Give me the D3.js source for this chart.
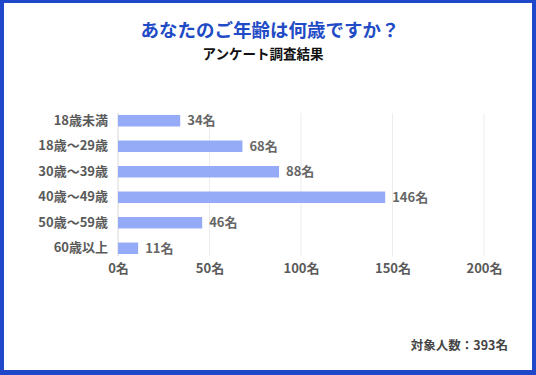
<!DOCTYPE html>
<html>
<head>
<meta charset="utf-8">
<script src="https://cdn.jsdelivr.net/npm/d3@7"></script>
<style>
  body { margin: 0; background: #fff; }
  svg { display: block; font-family: "Noto Sans CJK JP", "Noto Sans", sans-serif; }
</style>
</head>
<body>
<div id="chart"></div>
<script>
var categories = ["18歳未満", "18歳〜29歳", "30歳〜39歳", "40歳〜49歳", "50歳〜59歳", "60歳以上"];
var counts = [34, 68, 88, 146, 46, 11];
var xTicks = [0, 50, 100, 150, 200];
var title = "あなたのご年齢は何歳ですか？";
var subtitle = "アンケート調査結果";
var note = "対象人数：393名";

var width = 536, height = 375;

var svg = d3.select("#chart").append("svg")
    .attr("width", width)
    .attr("height", height);

// blue frame
svg.append("rect")
    .attr("x", 0).attr("y", 0)
    .attr("width", width).attr("height", height)
    .attr("fill", "#1f47c9");
svg.append("rect")
    .attr("x", 4).attr("y", 3)
    .attr("width", width - 8).attr("height", height - 8)
    .attr("fill", "#fff");

svg.append("text")
    .attr("x", width / 2 + 2).attr("y", 37)
    .attr("text-anchor", "middle")
    .attr("fill", "#1f4bc6")
    .attr("font-size", 18.5)
    .attr("font-weight", "bold")
    .text(title);

svg.append("text")
    .attr("x", width / 2 - 5).attr("y", 59)
    .attr("text-anchor", "middle")
    .attr("fill", "#111")
    .attr("font-size", 13.5)
    .attr("font-weight", "bold")
    .text(subtitle);

var x = d3.scaleLinear().domain([0, 200]).range([118, 484]);
var y = d3.scaleBand().domain(categories)
    .range([108, 261])
    .paddingInner(0.55)
    .paddingOuter(0.275);

// grid
svg.selectAll(".grid")
    .data(xTicks)
    .enter()
    .append("line")
    .attr("class", "grid")
    .attr("x1", function(d) { return x(d); })
    .attr("x2", function(d) { return x(d); })
    .attr("y1", 113)
    .attr("y2", 256)
    .attr("stroke", function(d) { return d === 0 ? "#d8d8d8" : "#ececec"; })
    .attr("stroke-width", 1);

var xAxis = d3.axisBottom(x).tickValues(xTicks).tickSize(0).tickFormat(function(d) { return d + "名"; });
var gx = svg.append("g")
    .attr("transform", "translate(0,261)")
    .call(xAxis);
gx.select(".domain").remove();
gx.selectAll("text")
    .attr("fill", "#5a5a5a")
    .attr("font-size", 13)
    .attr("font-weight", "bold")
    .attr("font-family", "\"Noto Sans CJK JP\", sans-serif");

var yAxis = d3.axisLeft(y).tickSize(0).tickPadding(10);
var gy = svg.append("g")
    .attr("transform", "translate(118,0)")
    .call(yAxis);
gy.select(".domain").remove();
gy.selectAll("text")
    .attr("fill", "#5a5a5a")
    .attr("font-size", 13)
    .attr("font-weight", "bold")
    .attr("font-family", "\"Noto Sans CJK JP\", sans-serif");

svg.selectAll(".bar")
    .data(counts)
    .enter()
    .append("rect")
    .attr("class", "bar")
    .attr("x", x(0))
    .attr("y", function(d, i) { return y(categories[i]); })
    .attr("width", function(d) { return x(d) - x(0); })
    .attr("height", y.bandwidth())
    .attr("fill", "#95abf7");

svg.selectAll(".label")
    .data(counts)
    .enter()
    .append("text")
    .attr("class", "label")
    .attr("x", function(d) { return x(d) + 7; })
    .attr("y", function(d, i) { return y(categories[i]) + y.bandwidth() / 2; })
    .attr("dy", "0.35em")
    .attr("fill", "#666")
    .attr("font-size", 13)
    .attr("font-weight", "bold")
    .text(function(d) { return d + "名"; });

svg.append("text")
    .attr("x", 508).attr("y", 350)
    .attr("text-anchor", "end")
    .attr("fill", "#444")
    .attr("font-size", 12.5)
    .attr("font-weight", "bold")
    .text(note);
</script>
</body>
</html>
